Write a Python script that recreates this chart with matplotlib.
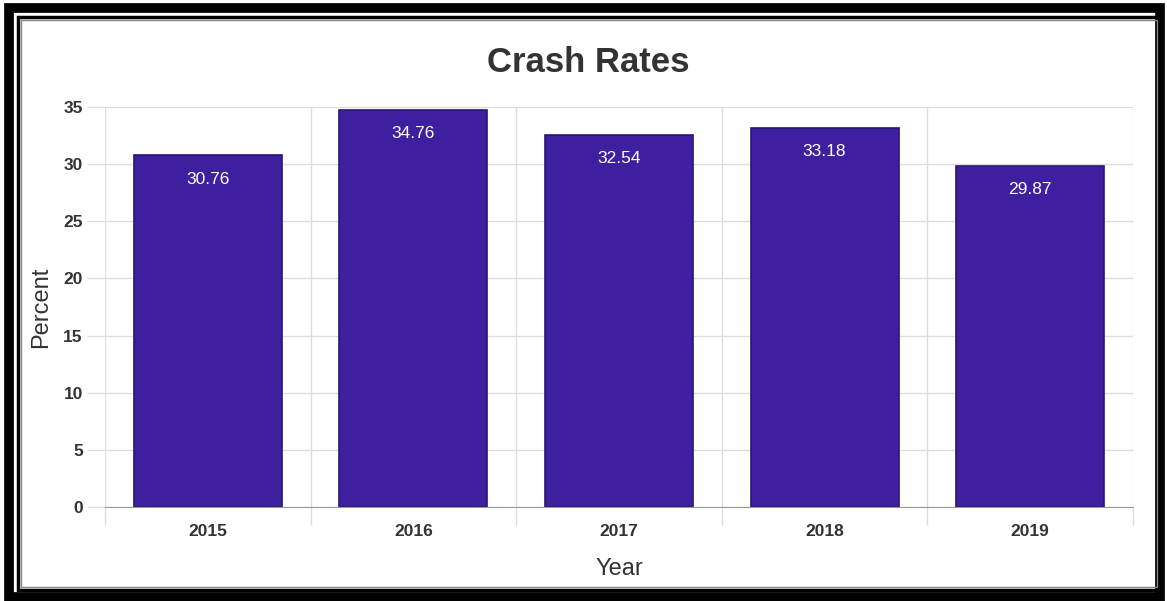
import matplotlib
matplotlib.use("Agg")
import matplotlib.pyplot as plt
from matplotlib.patches import Rectangle

plt.rcParams["font.family"] = ["Liberation Sans", "DejaVu Sans"]

years = ["2015", "2016", "2017", "2018", "2019"]
crash_rates = [30.76, 34.76, 32.54, 33.18, 29.87]
y_ticks = [0, 5, 10, 15, 20, 25, 30, 35]

BAR_COLOR = "#3d1f9f"
EDGE_COLOR = "#2a1478"
TEXT_COLOR = "#333333"
GRID_COLOR = "#dddddd"

W, H = 1167, 601
fig = plt.figure(figsize=(W / 100, H / 100), dpi=100)


def frame(x0, y0, x1, y1, color, lw):
    # rectangle given in pixel coords, top-left origin
    fig.patches.append(Rectangle((x0 / W, 1 - y1 / H), (x1 - x0) / W, (y1 - y0) / H,
                                 transform=fig.transFigure, fill=False,
                                 edgecolor=color, linewidth=lw, zorder=10))


# double black border with a thin grey inner line
frame(8.5, 8, 1159.5, 596.5, "black", 7)
frame(17.5, 17, 1159.5, 589.5, "black", 2.5)
frame(20.5, 20, 1156.5, 587, "#888888", 1)

ax = fig.add_axes([105 / W, 1 - 507 / H, (1133 - 105) / W, 400 / H])
x = range(len(years))
bars = ax.bar(x, crash_rates, width=0.72, color=BAR_COLOR, edgecolor=EDGE_COLOR,
              linewidth=1.2, zorder=3)
for b, v in zip(bars, crash_rates):
    ax.annotate(f"{v:.2f}", (b.get_x() + b.get_width() / 2, v), xytext=(0, -17),
                textcoords="offset points", ha="center", va="center",
                color="white", fontsize=12.5, zorder=4)

ax.set_xlim(-0.5, len(years) - 0.5)
ax.set_ylim(0, 35)
ax.set_yticks(y_ticks)
ax.set_xticks(list(x))
ax.set_xticklabels(years)
ax.set_xticks([i - 0.5 for i in range(len(years) + 1)], minor=True)
ax.tick_params(axis="x", which="major", length=0, pad=12, labelsize=12.5,
               labelcolor=TEXT_COLOR)
ax.tick_params(axis="x", which="minor", length=13, color=GRID_COLOR, width=1)
ax.tick_params(axis="y", length=13, color=GRID_COLOR, width=1, pad=3,
               labelsize=12.5, labelcolor=TEXT_COLOR)
for lab in ax.get_xticklabels() + ax.get_yticklabels():
    lab.set_fontweight("bold")

ax.grid(True, axis="y", color=GRID_COLOR, linewidth=1, zorder=0)
ax.grid(True, axis="x", which="minor", color=GRID_COLOR, linewidth=1, zorder=0)
for side in ("top", "right", "left"):
    ax.spines[side].set_visible(False)
ax.spines["bottom"].set_color("#999999")
ax.spines["bottom"].set_zorder(5)

ax.set_xlabel("Year", fontsize=17, color=TEXT_COLOR, labelpad=14)
ax.set_ylabel("Percent", fontsize=17, color=TEXT_COLOR, labelpad=8)
fig.text(588 / W, 1 - 63 / H, "Crash Rates", ha="center", va="center",
         fontsize=25, fontweight="bold", color=TEXT_COLOR)

fig.savefig("out.png", dpi=100)
